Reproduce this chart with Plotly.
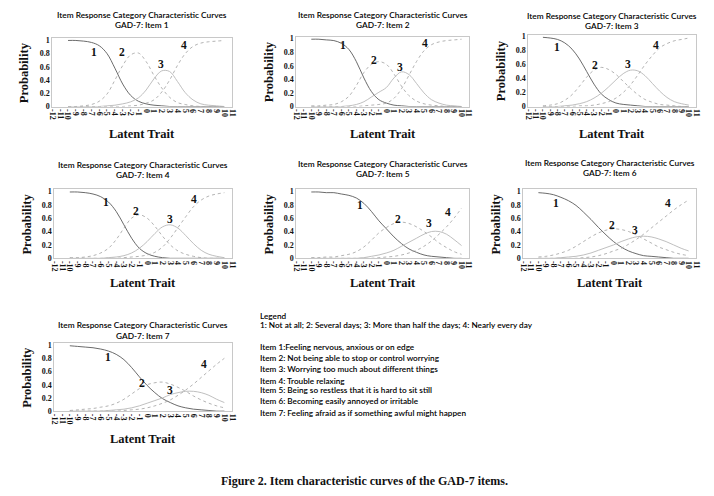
import plotly.graph_objects as go

# ---------------- data ----------------
theta = list(range(-10, 11))
x_ticks = list(range(-12, 12))
y_ticks = [0, 0.2, 0.4, 0.6, 0.8, 1]
y_tick_text = ["0", "0.2", "0.4", "0.6", "0.8", "1"]
categories = ["1", "2", "3", "4"]

i1_p1 = [1.00, 1.00, .99, .97, .92, .80, .58, .34, .17, .08, .04, .02, .01, .00, .00, .00, .00, .00, .00, .00, .00]
i1_p2 = [.00, .00, .01, .03, .08, .19, .40, .62, .78, .81, .68, .47, .28, .14, .06, .03, .01, .00, .00, .00, .00]
i1_p3 = [.00, .00, .00, .00, .00, .01, .02, .04, .07, .13, .25, .42, .54, .53, .38, .21, .10, .04, .02, .01, .00]
i1_p4 = [.00, .00, .00, .00, .00, .00, .00, .00, .01, .02, .05, .10, .22, .40, .62, .80, .91, .96, .98, .99, 1.00]

i2_p1 = [.99, .99, .98, .97, .93, .84, .66, .42, .22, .10, .05, .02, .01, .00, .00, .00, .00, .00, .00, .00, .00]
i2_p2 = [.01, .01, .02, .03, .07, .15, .31, .50, .62, .66, .62, .48, .30, .16, .08, .04, .02, .01, .00, .00, .00]
i2_p3 = [.00, .00, .00, .00, .00, .01, .03, .07, .14, .21, .28, .42, .51, .47, .34, .20, .10, .05, .02, .01, .00]
i2_p4 = [.00, .00, .00, .00, .00, .00, .00, .01, .02, .03, .05, .12, .26, .46, .66, .82, .91, .95, .97, .98, .99]

i3_p1 = [.99, .98, .96, .91, .82, .68, .50, .32, .18, .10, .05, .03, .02, .01, .00, .00, .00, .00, .00, .00, .00]
i3_p2 = [.01, .02, .04, .09, .17, .29, .42, .52, .56, .53, .46, .36, .26, .17, .10, .06, .03, .02, .01, .00, .00]
i3_p3 = [.00, .00, .00, .01, .02, .04, .07, .12, .19, .28, .38, .47, .52, .51, .44, .33, .22, .13, .07, .04, .02]
i3_p4 = [.00, .00, .00, .00, .00, .01, .01, .02, .04, .07, .12, .20, .31, .45, .60, .73, .84, .90, .94, .96, .98]

i4_p1 = [.99, .99, .98, .96, .92, .84, .70, .50, .30, .15, .07, .03, .01, .00, .00, .00, .00, .00, .00, .00, .00]
i4_p2 = [.01, .01, .02, .04, .08, .15, .28, .45, .60, .65, .60, .48, .33, .20, .11, .06, .03, .01, .00, .00, .00]
i4_p3 = [.00, .00, .00, .00, .00, .01, .02, .04, .08, .15, .25, .37, .47, .50, .45, .34, .22, .12, .06, .03, .01]
i4_p4 = [.00, .00, .00, .00, .00, .00, .00, .01, .02, .03, .05, .09, .17, .30, .46, .62, .77, .87, .93, .96, .98]

i5_p1 = [.99, .99, .98, .98, .96, .94, .90, .82, .70, .56, .44, .32, .22, .14, .09, .05, .03, .02, .01, .00, .00]
i5_p2 = [.01, .01, .02, .02, .04, .06, .10, .17, .27, .38, .46, .52, .54, .52, .47, .40, .32, .23, .16, .10, .06]
i5_p3 = [.00, .00, .00, .00, .00, .00, .00, .01, .03, .05, .08, .12, .18, .24, .30, .36, .40, .40, .36, .28, .19]
i5_p4 = [.00, .00, .00, .00, .00, .00, .00, .00, .00, .01, .02, .03, .05, .08, .12, .18, .26, .36, .47, .60, .75]

i6_p1 = [.98, .97, .95, .91, .86, .79, .69, .58, .46, .35, .25, .17, .11, .07, .04, .03, .02, .01, .00, .00, .00]
i6_p2 = [.02, .03, .05, .08, .12, .18, .25, .32, .38, .42, .44, .43, .40, .35, .29, .23, .17, .13, .09, .06, .04]
i6_p3 = [.00, .00, .00, .01, .02, .03, .05, .08, .12, .16, .20, .25, .29, .32, .33, .32, .29, .25, .20, .15, .11]
i6_p4 = [.00, .00, .00, .00, .00, .00, .01, .02, .04, .07, .11, .15, .21, .28, .36, .45, .54, .63, .72, .80, .87]

i7_p1 = [.99, .98, .97, .96, .94, .91, .86, .78, .66, .52, .39, .28, .19, .13, .08, .05, .03, .02, .01, .00, .00]
i7_p2 = [.01, .02, .03, .04, .06, .08, .12, .18, .26, .34, .40, .43, .44, .41, .36, .30, .23, .17, .12, .08, .05]
i7_p3 = [.00, .00, .00, .00, .00, .01, .02, .03, .05, .08, .12, .16, .20, .25, .28, .30, .30, .28, .24, .18, .13]
i7_p4 = [.00, .00, .00, .00, .00, .00, .00, .01, .02, .03, .05, .08, .12, .17, .24, .32, .41, .51, .61, .71, .80]

items = [
    [i1_p1, i1_p2, i1_p3, i1_p4],
    [i2_p1, i2_p2, i2_p3, i2_p4],
    [i3_p1, i3_p2, i3_p3, i3_p4],
    [i4_p1, i4_p2, i4_p3, i4_p4],
    [i5_p1, i5_p2, i5_p3, i5_p4],
    [i6_p1, i6_p2, i6_p3, i6_p4],
    [i7_p1, i7_p2, i7_p3, i7_p4],
]
item_titles = ["GAD-7: Item %d" % (k + 1) for k in range(7)]
main_title = "Item Response Category Characteristic Curves"

legend_lines = [
    "Legend",
    "1: Not at all; 2: Several days; 3: More than half the days; 4: Nearly every day",
    "Item 1:Feeling nervous, anxious or on edge",
    "Item 2: Not being able to stop or control worrying",
    "Item 3: Worrying too much about different things",
    "Item 4: Trouble relaxing",
    "Item 5: Being so restless that it is hard to sit still",
    "Item 6: Becoming easily annoyed or irritable",
    "Item 7: Feeling afraid as if something awful might happen",
]
caption = "Figure 2. Item characteristic curves of the GAD-7 items."

# ---------------- layout helpers (page pixels) ----------------
W, H = 714, 496
boxes = [(48, 230, 37, 106), (295, 470, 35, 106), (530, 700, 33, 106),
         (50, 230, 190, 260), (295, 470, 190, 260), (525, 700, 190, 260),
         (50, 230, 346, 415)]
title_y = [(13, 23), (13, 23), (14, 24), (165, 175), (164, 174), (163, 173), (328, 339)]
xlabel_y = [134, 134, 134, 285, 285, 285, 443]
label_pos = [
    [(-6.7, .82), (-3.1, .82), (1.9, .65), (4.9, .93)],
    [(-5.8, .91), (-1.6, .68), (1.8, .58), (5.1, .94)],
    [(-8.1, .85), (-2.8, .60), (1.7, .61), (5.5, .88)],
    [(-5.3, .84), (-1.4, .70), (2.9, .59), (6.1, .88)],
    [(-3.5, .79), (1.5, .59), (5.6, .52), (8.2, .69)],
    [(-7.6, .82), (-0.2, .50), (2.8, .42), (7.2, .83)],
    [(-5.1, .82), (-0.6, .42), (3.0, .32), (7.4, .72)],
]
line_styles = [dict(color="#5a5a5a", width=0.9),
               dict(color="#a0a0a0", width=0.8, dash="dot"),
               dict(color="#b8b8b8", width=0.9),
               dict(color="#a0a0a0", width=0.8, dash="dot")]

def px(x):
    return x / W

def py(y):
    return 1 - y / H

serif = "Liberation Serif, Times New Roman, serif"
sans = "Lato, Open Sans, sans-serif"

fig = go.Figure()
layout = dict(width=W, height=H, margin=dict(l=0, r=0, t=0, b=0),
              paper_bgcolor="white", plot_bgcolor="white", showlegend=False)
annotations = []

for k, curves in enumerate(items):
    n = k + 1
    xa = "x" if n == 1 else "x%d" % n
    ya = "y" if n == 1 else "y%d" % n
    for c, vals in enumerate(curves):
        fig.add_trace(go.Scatter(x=theta, y=vals, mode="lines", line=line_styles[c],
                                 line_shape="spline", xaxis=xa, yaxis=ya,
                                 name=categories[c], hoverinfo="skip"))
    x0, x1, y0, y1 = boxes[k]
    layout["xaxis" if n == 1 else "xaxis%d" % n] = dict(
        domain=[px(x0), px(x1)], anchor=ya, range=[-12, 11],
        tickmode="array", tickvals=x_ticks, ticktext=[str(v) for v in x_ticks],
        tickangle=90, tickfont=dict(family=serif, size=8, color="#111", weight="bold"),
        showline=True, mirror=True, linecolor="#c8c8c8", linewidth=1,
        showgrid=False, zeroline=False, ticks="", ticklen=0, fixedrange=True)
    layout["yaxis" if n == 1 else "yaxis%d" % n] = dict(
        domain=[py(y1), py(y0)], anchor=xa, range=[0, 1.03],
        tickmode="array", tickvals=y_ticks, ticktext=y_tick_text,
        tickfont=dict(family=serif, size=8, color="#111", weight="bold"),
        showline=True, mirror=True, linecolor="#c8c8c8", linewidth=1,
        showgrid=False, zeroline=False, ticks="", fixedrange=True)
    cx = (x0 + x1) / 2
    annotations.append(dict(text=main_title, x=px(cx), y=py(title_y[k][0]), xref="paper", yref="paper",
                            showarrow=False, xanchor="center", yanchor="middle",
                            font=dict(family=sans, size=8.3, color="#000", weight=600)))
    annotations.append(dict(text=item_titles[k], x=px(cx), y=py(title_y[k][1]), xref="paper", yref="paper",
                            showarrow=False, xanchor="center", yanchor="middle",
                            font=dict(family=sans, size=8.3, color="#000", weight=600)))
    annotations.append(dict(text="<b>Latent Trait</b>", x=px(cx), y=py(xlabel_y[k]), xref="paper", yref="paper",
                            showarrow=False, xanchor="center", yanchor="middle",
                            font=dict(family=serif, size=12.5, color="#111")))
    annotations.append(dict(text="<b>Probability</b>", x=px(x0 - 28), y=py((y0 + y1) / 2), xref="paper", yref="paper",
                            showarrow=False, xanchor="center", yanchor="middle", textangle=-90,
                            font=dict(family=serif, size=12.5, color="#111")))
    for c, (lx, ly) in enumerate(label_pos[k]):
        annotations.append(dict(text="<b>%s</b>" % categories[c], x=lx, y=ly, xref=xa, yref=ya,
                                showarrow=False, xanchor="center", yanchor="middle",
                                font=dict(family=serif, size=11.5, color="#111")))

legend_y = [318, 328, 350, 361, 372, 384, 394, 405, 417]
for t, yy in zip(legend_lines, legend_y):
    annotations.append(dict(text=t, x=px(256), y=py(yy), xref="paper", yref="paper",
                            showarrow=False, xanchor="left", yanchor="middle",
                            font=dict(family=sans, size=8.2, color="#000", weight=600)))

annotations.append(dict(text="<b>%s</b>" % caption, x=px(364), y=py(486), xref="paper", yref="paper",
                        showarrow=False, xanchor="center", yanchor="middle",
                        font=dict(family=serif, size=12, color="#111")))

layout["annotations"] = annotations
fig.update_layout(**layout)
fig.write_html("out.html", config={"displayModeBar": False, "staticPlot": True},
               post_script="document.body.style.margin='0';document.body.style.overflow='hidden';")
